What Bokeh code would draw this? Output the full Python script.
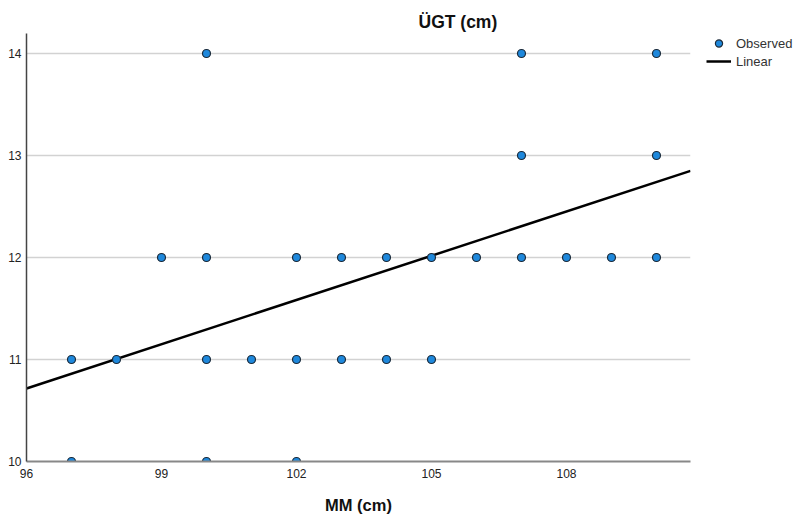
from bokeh.plotting import figure
from bokeh.models import Range1d, FixedTicker, Legend, LegendItem, ColumnDataSource
from bokeh.embed import file_html
from bokeh.resources import INLINE

# ---- data ----
mm_cm = [100, 107, 110,
         107, 110,
         99, 100, 102, 103, 104, 105, 106, 107, 108, 109, 110,
         97, 98, 100, 101, 102, 103, 104, 105,
         97, 100, 102]
ugt_cm = [14, 14, 14,
          13, 13,
          12, 12, 12, 12, 12, 12, 12, 12, 12, 12, 12,
          11, 11, 11, 11, 11, 11, 11, 11,
          10, 10, 10]
fit_intercept = -3.166
fit_slope = 0.1446
x_ticks = [96, 99, 102, 105, 108]
y_ticks = [10, 11, 12, 13, 14]
x_lim = [96, 110.756]
y_lim = [10, 14.196]

FONT = "Liberation Sans"

p = figure(frame_width=664, frame_height=428,
           min_border_left=26, min_border_right=0, min_border_top=33, min_border_bottom=56,
           x_range=Range1d(*x_lim), y_range=Range1d(*y_lim),
           output_backend="svg", toolbar_location=None)
p.outline_line_color = None
p.background_fill_color = "white"

# title (y variable name, placed at top as in the original)
p.title.text = "ÜGT (cm)"
p.title.align = "left"
p.title.offset = 392
p.title.standoff = 4
p.title.text_font = FONT
p.title.text_font_style = "bold"
p.title.text_font_size = "17.5px"
p.title.text_color = "#111111"

# grid
p.xgrid.grid_line_color = None
p.ygrid.grid_line_color = "#d2d2d2"
p.ygrid.grid_line_width = 1.5
p.ygrid.ticker = FixedTicker(ticks=y_ticks)

# axes
p.xaxis.ticker = FixedTicker(ticks=x_ticks)
p.yaxis.ticker = FixedTicker(ticks=y_ticks)
for ax in (p.xaxis[0], p.yaxis[0]):
    ax.major_tick_out = 0
    ax.major_tick_in = 0
    ax.minor_tick_out = 0
    ax.minor_tick_in = 0
    ax.major_label_text_font = FONT
    ax.major_label_text_font_size = "12px"
    ax.major_label_text_color = "#222222"
p.yaxis.axis_line_color = "#444444"
p.yaxis.axis_line_width = 1.5
p.yaxis.major_label_standoff = 5
p.xaxis.axis_line_color = "#888888"
p.xaxis.axis_line_width = 2
p.xaxis.major_label_standoff = 7
p.xaxis.axis_label = "MM (cm)"
p.xaxis.axis_label_standoff = 15
p.xaxis.axis_label_text_font = FONT
p.xaxis.axis_label_text_font_style = "bold"
p.xaxis.axis_label_text_font_size = "16.5px"
p.xaxis.axis_label_text_color = "#111111"

# fit line
lx = list(x_lim)
ly = [fit_intercept + fit_slope * v for v in lx]
line_r = p.line(lx, ly, line_color="black", line_width=2.5)

# observed points
src = ColumnDataSource(dict(x=mm_cm, y=ugt_cm))
pts = p.scatter("x", "y", source=src, size=8, fill_color="#1e88dc",
                line_color="#1c2b3a", line_width=1.2)

legend = Legend(items=[LegendItem(label="Observed", renderers=[pts]),
                       LegendItem(label="Linear", renderers=[line_r])],
                location=(16, 391), orientation="vertical",
                padding=0, margin=0, spacing=0,
                glyph_width=25, glyph_height=18, label_height=18,
                label_standoff=5, label_text_font=FONT, label_text_font_size="13px",
                label_text_color="#333333", border_line_color=None,
                background_fill_alpha=0)
p.add_layout(legend, "right")

open("out.html", "w").write(file_html(p, INLINE))
